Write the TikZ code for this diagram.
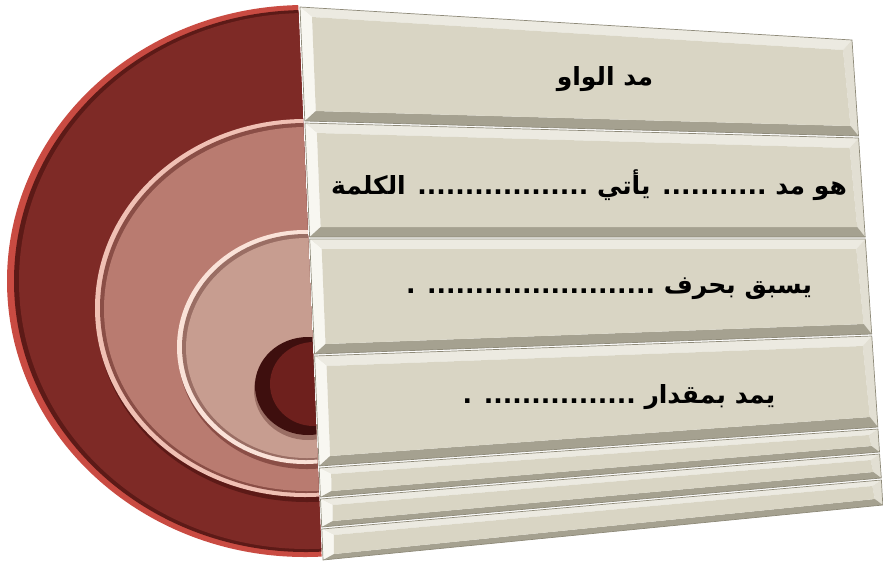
\documentclass[tikz,border=0pt]{standalone}
\usepackage{fontspec}
\newfontfamily\arabicfont[Script=Arabic]{DejaVu Sans}
\TeXXeTstate=1
\usetikzlibrary{calc}
\definecolor{redrim}{HTML}{C94B42}
\definecolor{redmain}{HTML}{7E2A26}
\definecolor{redshade}{HTML}{5C1A17}
\definecolor{pinkrim}{HTML}{F0C0B4}
\definecolor{pinkmain}{HTML}{B97B70}
\definecolor{pinkshade}{HTML}{8A4E46}
\definecolor{lpinkrim}{HTML}{FAE2D8}
\definecolor{lpinkmain}{HTML}{C79D90}
\definecolor{lpinkshade}{HTML}{9A6E64}
\definecolor{darkrim}{HTML}{3E0F0E}
\definecolor{darkmain}{HTML}{6E201D}
\definecolor{bevtop}{HTML}{ECEAE1}
\definecolor{bevleft}{HTML}{F8F7F1}
\definecolor{bevright}{HTML}{E2DFD3}
\definecolor{bevbot}{HTML}{A5A190}
\definecolor{face}{HTML}{D9D5C4}
\definecolor{edge}{HTML}{8E8A79}
\tikzset{
  paneltext/.style={font=\arabicfont\bfseries\fontsize{25}{30}\selectfont, text=black, inner sep=0pt},
}
% #1 TL, #2 TR, #3 BR, #4 BL, #5 vertical inset
\newcommand\bevpanel[5]{%
  \coordinate (TLo) at (#1);
  \coordinate (TRo) at (#2);
  \coordinate (BRo) at (#3);
  \coordinate (BLo) at (#4);
  \coordinate (TLi) at ($(TLo)+(12,#5)$);
  \coordinate (TRi) at ($(TRo)+(-9,#5)$);
  \coordinate (BRi) at ($(BRo)+(-8,-#5)$);
  \coordinate (BLi) at ($(BLo)+(11,-#5)$);
  \fill[bevtop] (TLo) -- (TRo) -- (TRi) -- (TLi) -- cycle;
  \fill[bevleft] (TLo) -- (TLi) -- (BLi) -- (BLo) -- cycle;
  \fill[bevright] (TRo) -- (BRo) -- (BRi) -- (TRi) -- cycle;
  \fill[bevbot] (BLo) -- (BRo) -- (BRi) -- (BLi) -- cycle;
  \fill[face] (TLi) -- (TRi) -- (BRi) -- (BLi) -- cycle;
  \draw[edge, line width=0.7pt] (TLo) -- (TRo) -- (BRo) -- (BLo) -- cycle;
}
\begin{document}
\begin{tikzpicture}[x=1pt,y=-1pt]
\useasboundingbox (0,0) rectangle (883,566);
% nested half discs
\begin{scope}
  \clip (0,0) -- (298,0) -- (322,566) -- (0,566) -- cycle;
  % outer
  \fill[redrim] (305,281) ellipse [x radius=298pt, y radius=276pt];
  \fill[redshade] (306,281) ellipse [x radius=292pt, y radius=271pt];
  \fill[redmain] (307,281) ellipse [x radius=288pt, y radius=268pt];
  % second
  \fill[redshade] (307,312) ellipse [x radius=211pt, y radius=190pt];
  \fill[pinkrim] (305,308) ellipse [x radius=210pt, y radius=189pt];
  \fill[pinkshade] (306,308) ellipse [x radius=206pt, y radius=185pt];
  \fill[pinkmain] (307,309) ellipse [x radius=203pt, y radius=182pt];
  % third
  \fill[pinkshade] (307,351) ellipse [x radius=129pt, y radius=118pt];
  \fill[lpinkrim] (305,347) ellipse [x radius=128pt, y radius=117pt];
  \fill[lpinkshade] (306,347) ellipse [x radius=124pt, y radius=113pt];
  \fill[lpinkmain] (307,348) ellipse [x radius=121pt, y radius=110pt];
  % inner
  \fill[lpinkshade] (308,390) ellipse [x radius=54pt, y radius=50pt];
  \fill[darkrim] (308,386) ellipse [x radius=53pt, y radius=49pt];
  \fill[darkmain] (314,384) ellipse [x radius=44pt, y radius=42pt];
\end{scope}
% panels
\bevpanel{300,7}{852,40}{858.5,136}{304.8,121}{10}
\bevpanel{304.9,123}{858.6,138}{865.2,237}{309.6,237}{10}
\bevpanel{309.7,239}{865.3,239}{871.7,334}{314.5,354}{10}
\bevpanel{314.6,356}{871.8,336}{877.9,427}{319.1,466}{10}
\bevpanel{319.2,468}{878,429}{879.5,452}{320.4,497}{6}
\bevpanel{320.5,499}{879.6,454}{881.3,478}{321.7,527}{6}
\bevpanel{321.8,529}{881.4,480}{882.8,505}{323,560}{6}
% texts
\node[paneltext] (t1) at (605,79) {\beginR مد الواو\endR};
\node[paneltext] (t2) at (589,185) {\beginR هو مد ........... يأتي .................. الكلمة\endR};
\node[paneltext] (t3) at (609,289) {\beginR يسبق بحرف ........................ .\endR};
\node[paneltext] (t4) at (619,397) {\beginR يمد بمقدار ................ .\endR};
\end{tikzpicture}
\end{document}
